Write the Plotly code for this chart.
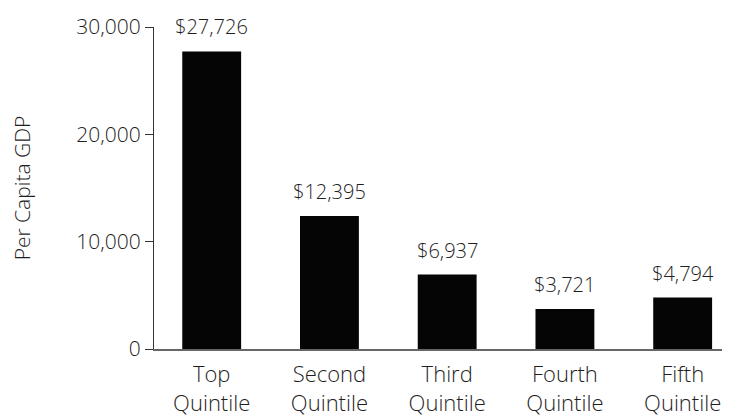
import plotly.graph_objects as go

categories = ["Top<br>Quintile", "Second<br>Quintile", "Third<br>Quintile", "Fourth<br>Quintile", "Fifth<br>Quintile"]
values = [27726, 12395, 6937, 3721, 4794]
labels = ["$27,726", "$12,395", "$6,937", "$3,721", "$4,794"]
ytick_vals = [0, 10000, 20000, 30000]
ytick_text = ["0", "10,000", "20,000", "30,000"]

FONT = "Open Sans"
TXTCOLOR = "#1e1e1e"
W = 300
xs = list(range(len(categories)))

fig = go.Figure()
fig.add_trace(go.Bar(x=xs, y=values, marker=dict(color="#050505", line=dict(width=0)),
                     width=0.5, hoverinfo="skip"))

for x, v, t in zip(xs, values, labels):
    fig.add_annotation(x=x, y=v, text=t, showarrow=False, yanchor="bottom",
                       yshift=9, font=dict(family=FONT, size=20, color=TXTCOLOR, weight=W))

fig.update_layout(
    width=730, height=420,
    margin=dict(l=146, r=0, t=19, b=79),
    paper_bgcolor="white", plot_bgcolor="white",
    showlegend=False,
    font=dict(family=FONT, size=21, color=TXTCOLOR),
)
fig.update_xaxes(range=[-0.49, 4.47], tickvals=xs, ticktext=categories,
                 showline=True, linecolor="#666", linewidth=1.5, showgrid=False,
                 ticks="", zeroline=False, ticklabelstandoff=5,
                 tickfont=dict(family=FONT, size=22, color=TXTCOLOR, weight=W))
fig.update_yaxes(range=[0, 30000], tickvals=ytick_vals, ticktext=ytick_text,
                 showline=True, linecolor="#333", linewidth=1, showgrid=False,
                 ticks="outside", ticklen=8, tickcolor="#333", zeroline=False,
                 tickfont=dict(family=FONT, size=21, color=TXTCOLOR, weight=W),
                 title=dict(text="Per Capita GDP",
                            font=dict(family=FONT, size=21, color=TXTCOLOR, weight=W),
                            standoff=40))

fig.write_html("out.html")
